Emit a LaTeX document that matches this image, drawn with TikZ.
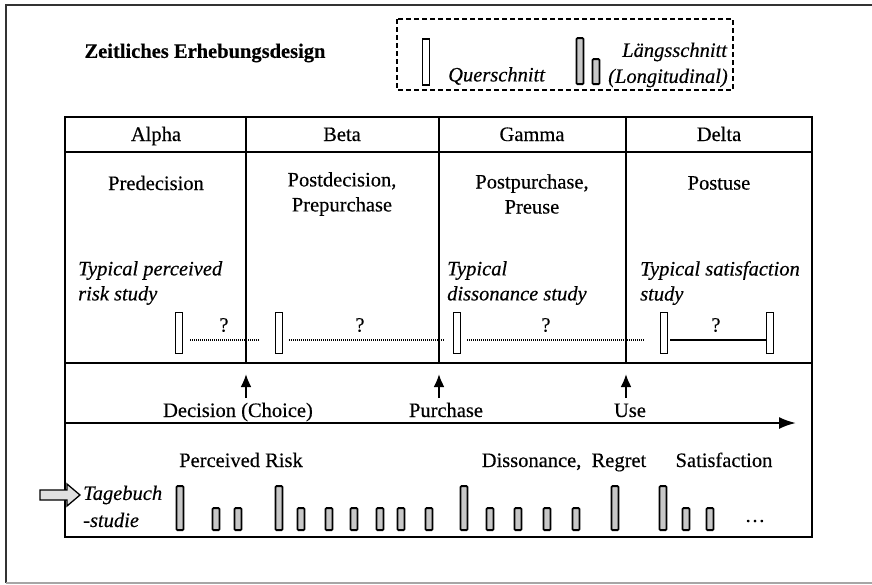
\documentclass[tikz,border=0pt]{standalone}
\usepackage{fontspec}
\setmainfont{Liberation Serif}[FakeBold=0.35]
\usetikzlibrary{arrows.meta}
\begin{document}
\begin{tikzpicture}[x=1pt,y=-1pt,
  every node/.style={font=\fontsize{20.5}{25}\selectfont, inner sep=0pt},
  itl/.style={font=\fontsize{20.5}{25}\selectfont\itshape, align=left},
  ttl/.style={font=\fontsize{20.5}{25}\selectfont\bfseries},
  head/.style={anchor=base},
  outer/.style={line width=1.4pt, draw=black!80},
  grid/.style={line width=1.8pt},
  qbar/.style={draw, fill=white, line width=1.2pt, minimum width=7pt, minimum height=41pt},
  lbar/.style={draw, fill=black!22, line width=1.8pt, rounded corners=1pt, minimum width=7pt, anchor=south},
  tallbar/.style={lbar, minimum height=44pt},
  shortbar/.style={lbar, minimum height=22pt},
  gapline/.style={line width=1.2pt, dash pattern=on 1pt off 1pt},
  linkline/.style={line width=1.1pt},
  event/.style={line width=2.2pt, -{Latex[length=13pt,width=11pt]}},
  timeline/.style={line width=2.2pt, -{Latex[length=17pt,width=12pt]}}
]
\useasboundingbox (0,0) rectangle (872,584);

% page frame
\draw[outer] (872,5) -- (6,5) -- (6,583);
\draw[line width=1.4pt, draw=black!35] (6,583) -- (872,583);

% title and legend
\node[ttl] (title) at (205,53) {Zeitliches Erhebungsdesign};
\draw[line width=1.6pt, dash pattern=on 5pt off 3pt] (397,19) rectangle (733,90);
\node[qbar, minimum height=46pt] (legq) at (426,62) {};
\node[itl, anchor=west] (querschnitt) at (448,76) {Querschnitt};
\node[lbar, minimum height=46pt] (legl1) at (580,85) {};
\node[lbar, minimum height=25pt] (legl2) at (596,85) {};
\node[itl, anchor=west] (laengs) at (622,52) {Längsschnitt};
\node[itl, anchor=west] (longi) at (608,78) {(Longitudinal)};

% table
\draw[grid] (65,117) rectangle (812,537);
\draw[grid] (65,152) -- (812,152);
\draw[grid] (65,363) -- (812,363);
\foreach \x in {246,439,626} \draw[grid] (\x,117) -- (\x,363);

% column heads
\node[head] (alpha) at (156,141) {Alpha};
\node[head] (beta)  at (342,141) {Beta};
\node[head] (gamma) at (532,141) {Gamma};
\node[head] (delta) at (719,141) {Delta};

\node (ph1) at (156,183) {Predecision};
\node[align=center] (ph2) at (342,194) {Postdecision,\\Prepurchase};
\node[align=center] (ph3) at (532,194) {Postpurchase,\\Preuse};
\node (ph4) at (719,183) {Postuse};

\node[itl, anchor=west] (st1) at (78,283) {Typical perceived\\risk study};
\node[itl, anchor=west] (st2) at (447,283) {Typical\\dissonance study};
\node[itl, anchor=west] (st3) at (640,283) {Typical satisfaction\\study};

% cross-sectional measurements
\node[qbar] (q1) at (179,333) {};
\node[qbar] (q2) at (279,333) {};
\node[qbar] (q3) at (457,333) {};
\node[qbar] (q4) at (664,333) {};
\node[qbar] (q5) at (770,333) {};
\coordinate (e1) at (260,340);
\coordinate (e2) at (445,340);
\coordinate (e3) at (645,340);
\draw[gapline] (q1.east |- 0,340) ++(7,0) -- (e1);
\draw[gapline] (q2.east |- 0,340) ++(6,0) -- (e2);
\draw[gapline] (q3.east |- 0,340) ++(6,0) -- (e3);
\draw[linkline] (q4.east |- 0,340) ++(2,0) -- (q5.west |- 0,340);
\node (k1) at (224,325) {?};
\node (k2) at (360,325) {?};
\node (k3) at (546,325) {?};
\node (k4) at (716,325) {?};

% events
\coordinate (d0) at (246,398);
\coordinate (p0) at (439,398);
\coordinate (u0) at (626,398);
\draw[event] (d0) -- ++(0,-24);
\draw[event] (p0) -- ++(0,-24);
\draw[event] (u0) -- ++(0,-24);
\node[head] (dec) at (238,417) {Decision (Choice)};
\node[head] (pur) at (446,417) {Purchase};
\node[head] (use) at (630,417) {Use};
\coordinate (t0) at (65,423);
\coordinate (t1) at (796,423);
\draw[timeline] (t0) -- (t1);

\node[head] (risk) at (241,467) {Perceived Risk};
\node[head] (diss) at (564,467) {Dissonance,\enspace Regret};
\node[head] (sat) at (724,467) {Satisfaction};

% diary study
\draw[line width=1.3pt, fill=black!12] (40,490) -- (67,490) -- (67,484) -- (80,495) -- (67,506) -- (67,500) -- (40,500) -- cycle;
\node[itl, anchor=west] (tb1) at (83,495) {Tagebuch};
\node[itl, anchor=west] (tb2) at (83,520) {-studie};

\foreach \x/\s in {180/tall,216/short,238/short,279/tall,301/short,329/short,354/short,380/short,401/short,429/short,464/tall,490/short,518/short,547/short,576/short,615/tall,663/tall,686/short,710/short}
  \node[\s bar] (b\x) at (\x,531) {};
\node (more) at (755,521) {\dots};
\end{tikzpicture}
\end{document}
